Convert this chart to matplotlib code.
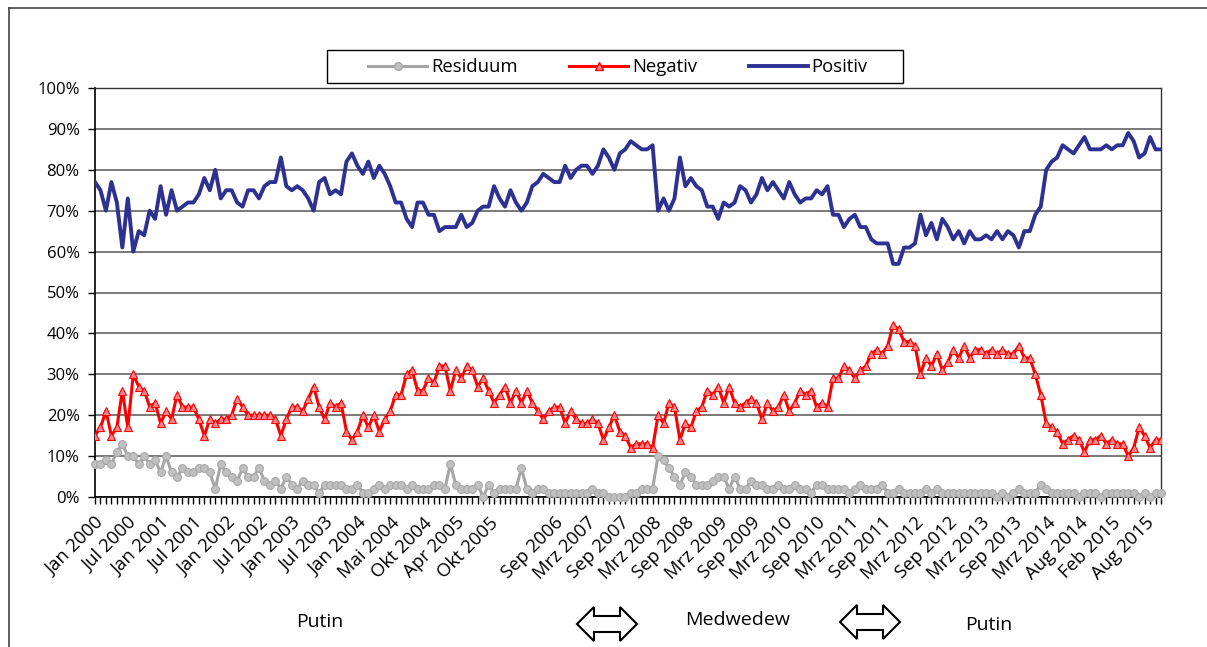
import matplotlib
matplotlib.use("Agg")
import matplotlib.pyplot as plt
import matplotlib.patches as mpatches
from matplotlib.lines import Line2D
import numpy as np

plt.rcParams['font.family'] = ['Open Sans', 'DejaVu Sans']

# ---------------- data (percent) ----------------
positiv = [77, 75, 70, 77, 72, 61, 73, 60, 65, 64, 70, 68, 76, 69, 75, 70, 71, 72, 72, 74,
           78, 75, 80, 73, 75, 75, 72, 71, 75, 75, 73, 76, 77, 77, 83, 76, 75, 76, 75, 73,
           70, 77, 78, 74, 75, 74, 82, 84, 81, 79, 82, 78, 81,
           79, 76, 72, 72, 68, 66, 72, 72, 69, 69, 65, 66, 66, 66, 69, 66, 67, 70, 71, 71,
           76, 73, 71, 75, 72, 70,
           72, 76, 77, 79, 78, 77, 77, 81, 78, 80, 81, 81, 79, 81, 85, 83, 80, 84, 85, 87,
           86, 85, 85, 86,
           70, 73, 70, 73, 83, 76, 78, 76, 75, 71, 71, 68, 72, 71, 72, 76, 75, 72, 74, 78,
           75, 77, 75, 73, 77, 74, 72, 73, 73, 75, 74, 76, 69, 69, 66, 68, 69, 66, 66, 63,
           62, 62, 62, 57, 57, 61, 61, 62, 69, 64, 67, 63, 68, 66, 63, 65,
           62, 65, 63, 63, 64, 63, 65, 63, 65, 64, 61, 65, 65, 69, 71, 80, 82, 83, 86, 85,
           84, 86, 88, 85, 85, 85, 86, 85, 86, 86, 89, 87, 83, 84, 88, 85, 85]

negativ = [15, 17, 21, 15, 17, 26, 17, 30, 27, 26, 22, 23, 18, 21, 19, 25, 22, 22, 22, 19,
           15, 19, 18, 19, 19, 20, 24, 22, 20, 20, 20, 20, 20, 19, 15, 19, 22, 22, 21, 24,
           27, 22, 19, 23, 22, 23, 16, 14, 16, 20, 17, 20, 16,
           19, 21, 25, 25, 30, 31, 26, 26, 29, 28, 32, 32, 26, 31, 29, 32, 31, 27, 29, 26,
           23, 25, 27, 23, 26, 23,
           26, 23, 21, 19, 21, 22, 22, 18, 21, 19, 18, 18, 19, 18, 14, 17, 20, 16, 15, 12,
           13, 13, 13, 12,
           20, 18, 23, 22, 14, 18, 17, 21, 22, 26, 25, 27, 23, 27, 23, 22, 23, 24, 23, 19,
           23, 21, 22, 25, 21, 23, 26, 25, 26, 22, 23, 22, 29, 29, 32, 31, 29, 31, 32, 35,
           36, 35, 37, 42, 41, 38, 38, 37, 30, 34, 32, 35, 31, 33, 36, 34,
           37, 34, 36, 36, 35, 36, 35, 36, 35, 35, 37, 34, 34, 30, 25, 18, 17, 16, 13, 14,
           15, 14, 11, 14, 14, 15, 13, 14, 13, 13, 10, 12, 17, 15, 12, 14, 14]

residuum = [8, 8, 9, 8, 11, 13, 10, 10, 8, 10, 8, 9, 6, 10, 6, 5, 7, 6, 6, 7,
            7, 6, 2, 8, 6, 5, 4, 7, 5, 5, 7, 4, 3, 4, 2, 5, 3, 2, 4, 3,
            3, 1, 3, 3, 3, 3, 2, 2, 3, 1, 1, 2, 3,
            2, 3, 3, 3, 2, 3, 2, 2, 2, 3, 3, 2, 8, 3, 2, 2, 2, 3, 0, 3,
            1, 2, 2, 2, 2, 7,
            2, 1, 2, 2, 1, 1, 1, 1, 1, 1, 1, 1, 2, 1, 1, 0, 0, 0, 0, 1,
            1, 2, 2, 2,
            10, 9, 7, 5, 3, 6, 5, 3, 3, 3, 4, 5, 5, 2, 5, 2, 2, 4, 3, 3,
            2, 2, 3, 2, 2, 3, 2, 2, 1, 3, 3, 2, 2, 2, 2, 1, 2, 3, 2, 2,
            2, 3, 1, 1, 2, 1, 1, 1, 1, 2, 1, 2, 1, 1, 1, 1,
            1, 1, 1, 1, 1, 1, 0, 1, 0, 1, 2, 1, 1, 1, 3, 2, 1, 1, 1, 1,
            1, 0, 1, 1, 1, 0, 1, 1, 1, 1, 1, 1, 0, 1, 0, 1, 1]

tick_labels = ["Jan 2000", "Jul 2000", "Jan 2001", "Jul 2001", "Jan 2002", "Jul 2002",
               "Jan 2003", "Jul 2003", "Jan 2004", "Mai 2004", "Okt 2004", "Apr 2005",
               "Okt 2005", "", "Sep 2006", "Mrz 2007", "Sep 2007", "Mrz 2008", "Sep 2008",
               "Mrz 2009", "Sep 2009", "Mrz 2010", "Sep 2010", "Mrz 2011", "Sep 2011",
               "Mrz 2012", "Sep 2012", "Mrz 2013", "Sep 2013", "Mrz 2014", "Aug 2014",
               "Feb 2015", "Aug 2015"]
label_step = 6
series_names = ["Residuum", "Negativ", "Positiv"]
period_labels = ["Putin", "Medwedew", "Putin"]

# ---------------- figure ----------------
W, H = 1207, 647
fig = plt.figure(figsize=(W / 100, H / 100), dpi=100)
fig.patch.set_facecolor('white')

def fx(px):
    return px / W

def fy(py):
    return 1 - py / H

ax = fig.add_axes([fx(95), fy(497), fx(1161) - fx(95), fy(88) - fy(497)])

n = len(positiv)
x = np.arange(n)

c_pos = '#2E3192'
c_neg = '#FF0000'
c_res = '#A5A5A5'

ax.plot(x, positiv, color=c_pos, lw=2.8, solid_joinstyle='round', zorder=3)
ax.plot(x, negativ, color=c_neg, lw=2.2, marker='^', ms=5.5, mfc='#F2888C',
        mec=c_neg, mew=0.8, zorder=4)
ax.plot(x, residuum, color=c_res, lw=2.2, marker='o', ms=5.6, mfc='#C0C0C0',
        mec='#A8A8A8', mew=0.8, zorder=5, clip_on=False)

ax.set_xlim(0, n - 1)
ax.set_ylim(0, 100)
ax.set_yticks(range(0, 101, 10))
ax.set_yticklabels([f"{v}%" for v in range(0, 101, 10)], fontsize=12)
ax.yaxis.grid(True, color='#6E6E6E', lw=1.3)
ax.set_axisbelow(True)

ax.set_xticks(x)
full_labels = [""] * n
for k, lab in enumerate(tick_labels):
    idx = k * label_step
    if idx < n:
        full_labels[idx] = lab
ax.set_xticklabels(full_labels, rotation=45, ha='right', va='top',
                   rotation_mode='anchor', fontsize=13.3)
ax.tick_params(axis='x', direction='out', length=5, width=1, color='black', pad=7)
ax.tick_params(axis='y', direction='out', length=5, width=1, color='black', pad=6)

for side in ['left', 'bottom']:
    ax.spines[side].set_color('black')
    ax.spines[side].set_linewidth(1.2)
for side in ['top', 'right']:
    ax.spines[side].set_color('#333333')
    ax.spines[side].set_linewidth(1.0)

# legend (frame drawn separately to reproduce the wide padding)
handles = [
    Line2D([], [], color=c_res, lw=2.2, marker='o', ms=5.6, mfc='#C0C0C0', mec='#A8A8A8'),
    Line2D([], [], color=c_neg, lw=2.2, marker='^', ms=5.5, mfc='#F2888C', mec=c_neg),
    Line2D([], [], color=c_pos, lw=2.8),
]
leg = fig.legend(handles, series_names, loc='center', bbox_to_anchor=(fx(618), fy(67)),
                 ncol=3, frameon=False, handlelength=3.2, handletextpad=0.2,
                 columnspacing=2.8, fontsize=13.3, borderpad=0.0)
fig.add_artist(mpatches.Rectangle((fx(327), fy(83)), fx(903) - fx(327), fy(50) - fy(83),
                                  transform=fig.transFigure, facecolor='none',
                                  edgecolor='black', lw=1.0))

# outer border (partially cropped frame)
fig.add_artist(Line2D([fx(9), 1], [fy(8), fy(8)], color='#444444', lw=1.2))
fig.add_artist(Line2D([fx(9), fx(9)], [0, fy(8)], color='#444444', lw=1.2))

# period annotations
fig.text(fx(320), fy(622), period_labels[0], ha='center', va='center', fontsize=14)
fig.text(fx(738), fy(620), period_labels[1], ha='center', va='center', fontsize=14)
fig.text(fx(989), fy(625), period_labels[2], ha='center', va='center', fontsize=14)

def double_arrow(cx, cy, w=30, hl=17, hh=17, hs=8):
    pts = [(cx - w, cy), (cx - w + hl, cy - hh), (cx - w + hl, cy - hs),
           (cx + w - hl, cy - hs), (cx + w - hl, cy - hh), (cx + w, cy),
           (cx + w - hl, cy + hh), (cx + w - hl, cy + hs), (cx - w + hl, cy + hs),
           (cx - w + hl, cy + hh)]
    pts = [(fx(px), fy(py)) for px, py in pts]
    fig.add_artist(mpatches.Polygon(pts, closed=True, transform=fig.transFigure,
                                    facecolor='white', edgecolor='black', lw=1.5))

double_arrow(607, 624)
double_arrow(870, 622)

fig.savefig('out.png', dpi=100, facecolor='white')
